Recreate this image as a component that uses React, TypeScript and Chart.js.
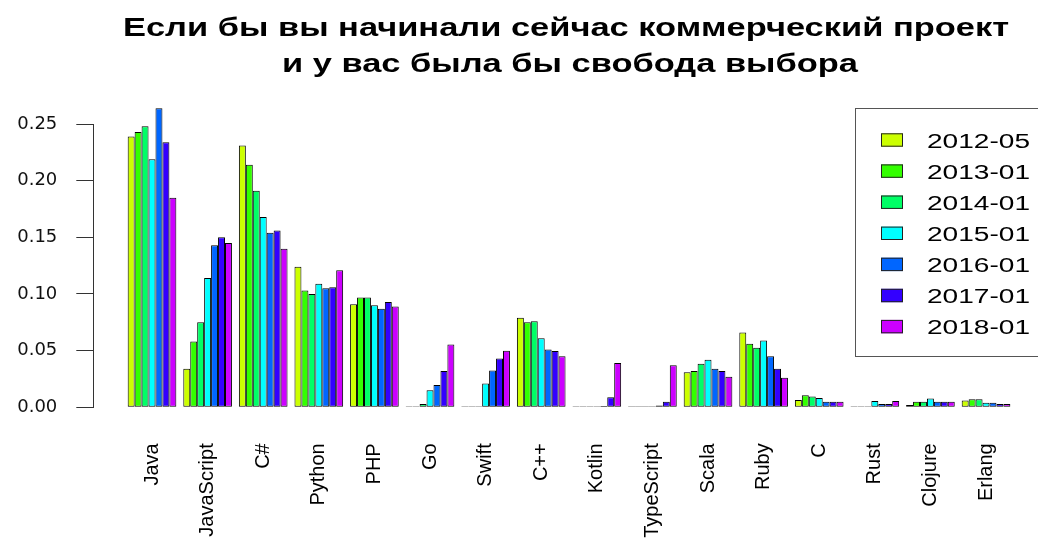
import React, { useEffect, useRef } from "react";
import { Chart, registerables } from "chart.js";

Chart.register(...registerables);

const titleLines = [
  "Если бы вы начинали сейчас коммерческий проект",
  "и у вас была бы свобода выбора",
];

const categories = [
  "Java", "JavaScript", "C#", "Python", "PHP", "Go", "Swift", "C++",
  "Kotlin", "TypeScript", "Scala", "Ruby", "C", "Rust", "Clojure", "Erlang",
];

const seriesLabels = ["2012-05", "2013-01", "2014-01", "2015-01", "2016-01", "2017-01", "2018-01"];

const v2012_05 = [0.239, 0.034, 0.231, 0.124, 0.091, 0.001, 0, 0.079, 0, 0, 0.031, 0.066, 0.0064, 0, 0.002, 0.006];
const v2013_01 = [0.243, 0.058, 0.214, 0.103, 0.097, 0.001, 0, 0.075, 0, 0, 0.032, 0.056, 0.0106, 0, 0.005, 0.007];
const v2014_01 = [0.248, 0.075, 0.191, 0.1, 0.097, 0.003, 0, 0.076, 0, 0, 0.0385, 0.0525, 0.0095, 0, 0.005, 0.007];
const v2015_01 = [0.219, 0.114, 0.168, 0.109, 0.09, 0.015, 0.021, 0.061, 0.0006, 0.0006, 0.042, 0.059, 0.0083, 0.0056, 0.0077, 0.004];
const v2016_01 = [0.264, 0.143, 0.154, 0.105, 0.087, 0.0196, 0.0325, 0.051, 0.0012, 0.0015, 0.034, 0.045, 0.0048, 0.003, 0.005, 0.004];
const v2017_01 = [0.234, 0.15, 0.156, 0.106, 0.093, 0.032, 0.043, 0.0496, 0.0088, 0.005, 0.032, 0.034, 0.0048, 0.003, 0.005, 0.003];
const v2018_01 = [0.185, 0.145, 0.14, 0.121, 0.089, 0.0555, 0.05, 0.045, 0.039, 0.037, 0.027, 0.026, 0.0048, 0.0056, 0.005, 0.003];

const seriesValues = [v2012_05, v2013_01, v2014_01, v2015_01, v2016_01, v2017_01, v2018_01];

const seriesColors = ["#CCFF00", "#33FF00", "#00FF66", "#00FFFF", "#0066FF", "#3300FF", "#CC00FF"];

const yTicks = [0, 0.05, 0.1, 0.15, 0.2, 0.25];

function drawScaledText(ctx: CanvasRenderingContext2D, text: string, x: number, y: number, sx: number, align: "left" | "center") {
  ctx.save();
  ctx.translate(x, y);
  ctx.scale(sx, 1);
  ctx.textAlign = align;
  ctx.textBaseline = "alphabetic";
  ctx.fillText(text, 0, 0);
  ctx.restore();
}

const titlePlugin = {
  id: "rTitle",
  afterDraw(chart: any) {
    const ctx = chart.ctx as CanvasRenderingContext2D;
    ctx.save();
    ctx.fillStyle = "#000";
    ctx.font = "bold 26.5px 'Liberation Sans'";
    const w = ctx.measureText(titleLines[0]).width;
    const sx = 886 / w;
    drawScaledText(ctx, titleLines[0], 566, 36, sx, "center");
    drawScaledText(ctx, titleLines[1], 570, 72, sx, "center");
    ctx.restore();
  },
};

const legendPlugin = {
  id: "rLegend",
  afterDraw(chart: any) {
    const ctx = chart.ctx as CanvasRenderingContext2D;
    ctx.save();
    ctx.strokeStyle = "#555";
    ctx.lineWidth = 1;
    ctx.strokeRect(855.5, 108.5, 200, 248);
    ctx.font = "20px 'Liberation Sans'";
    const w = ctx.measureText("2012-05").width;
    const sx = 103 / w;
    chart.data.datasets.forEach((ds: any, i: number) => {
      const cy = 140 + 31.1 * i;
      ctx.fillStyle = ds.backgroundColor;
      ctx.fillRect(881, cy - 6.7, 22, 13.4);
      ctx.strokeStyle = "#222";
      ctx.strokeRect(881.5, cy - 6.2, 21, 12.4);
      ctx.fillStyle = "#000";
      drawScaledText(ctx, ds.label, 927, cy + 7.6, sx, "left");
    });
    ctx.restore();
  },
};

export default function App() {
  const ref = useRef<HTMLCanvasElement>(null);
  useEffect(() => {
    if (!ref.current) return;
    const datasets = seriesValues.map((vals, si) => ({
      label: seriesLabels[si],
      data: vals.map((v, i) => ({ x: i, y: v })),
      backgroundColor: seriesColors[si],
      borderColor: "#000",
      borderWidth: 1,
      borderSkipped: false as any,
      minBarLength: 1,
      categoryPercentage: 0.875,
      barPercentage: 1,
      clip: false as any,
    }));
    const chart = new Chart(ref.current, {
      type: "bar",
      data: { datasets },
      options: {
        animation: false,
        responsive: true,
        maintainAspectRatio: false,
        layout: { padding: { top: 124, right: 20.7, left: 0, bottom: 0 } },
        plugins: {
          legend: { display: false },
          title: { display: false },
          tooltip: { enabled: false },
        },
        scales: {
          x: {
            type: "linear",
            min: -1.056,
            max: 15.5625,
            offset: false,
            grid: { display: false, drawTicks: false },
            border: { display: false },
            afterBuildTicks: (scale: any) => {
              scale.ticks = categories.map((_, i) => ({ value: i }));
            },
            afterFit: (scale: any) => {
              scale.height = 130.7;
              scale.paddingLeft = 0;
              scale.paddingRight = 0;
            },
            ticks: {
              autoSkip: false,
              maxRotation: 90,
              minRotation: 90,
              padding: 36,
              color: "#000",
              font: { family: "'Liberation Sans'", size: 20 },
              callback: (v: any) => categories[v] ?? "",
            },
          },
          y: {
            min: 0,
            max: 0.25,
            afterBuildTicks: (scale: any) => {
              scale.ticks = yTicks.map((v) => ({ value: v }));
            },
            afterFit: (scale: any) => {
              scale.width = 93.3;
            },
            grid: { display: true, drawOnChartArea: false, drawTicks: true, tickLength: 17, color: "#333" },
            border: { display: true, color: "#333", width: 1 },
            ticks: {
              padding: 19,
              color: "#111",
              font: { family: "'DejaVu Sans'", size: 18 },
              callback: (v: any) => Number(v).toFixed(2),
            },
          },
        },
      },
      plugins: [titlePlugin, legendPlugin],
    });
    return () => chart.destroy();
  }, []);
  return (
    <div style={{ position: "fixed", left: 0, top: 0, width: 1038, height: 538, background: "#fff" }}>
      <canvas ref={ref} />
    </div>
  );
}
